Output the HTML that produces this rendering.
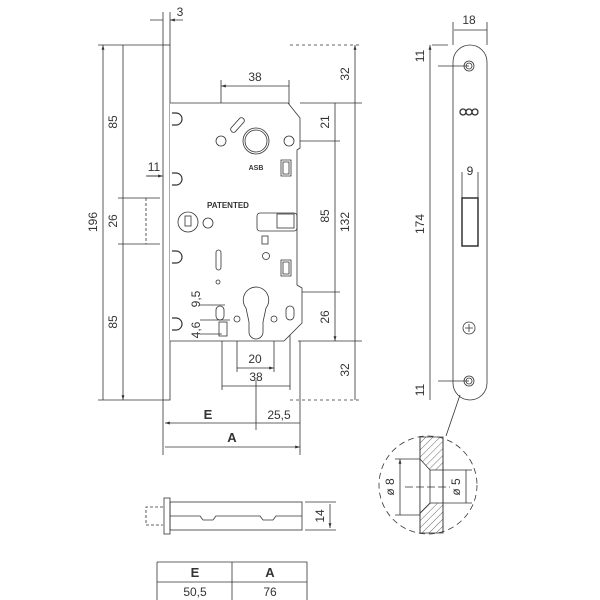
<!DOCTYPE html>
<html><head><style>body{margin:0;background:#fff}svg{display:block}text{font-family:"Liberation Sans",sans-serif;fill:#333}</style></head><body>
<svg width="600" height="600" viewBox="0 0 600 600" xmlns="http://www.w3.org/2000/svg">
<defs>
<marker id="a" viewBox="0 0 10 10" refX="10" refY="5" markerWidth="6" markerHeight="6" orient="auto-start-reverse"><path d="M0,2 L10,5 L0,8z" fill="#333"/></marker>
<pattern id="h" width="5" height="5" patternUnits="userSpaceOnUse" patternTransform="rotate(45)"><line x1="0" y1="0" x2="0" y2="5" stroke="#444" stroke-width="0.8"/></pattern>
</defs>
<g stroke="#333" fill="none" stroke-width="0.8">
<path d="M98,45H163M118,198H160M118,244H160M98,400H163M163,12V45M170,12V45M146,198H160M146,244H160"/>
<path d="M290,45H360M290,400H360" stroke-dasharray="3,3"/>
<path d="M300,103H362M256,141H340M205,292H340M298,341H362M221,80V138M289,80V138M163,400V455M300,341V455M256,380V430"/>
<g marker-start="url(#a)" marker-end="url(#a)">
<path d="M103,45V400M123,45V198M123,198V244M123,244V400"/>
<path d="M355,45V103M355,103V341M355,341V400M335,103V141M335,141V292M335,292V341"/>
<path d="M221,86H289M222,386H290M237,368H274"/>
<path d="M165,423H256M256,423H300M165,447H300"/>
<path d="M430,45V66M430,66V381M430,381V400M454,30H487M462,180H478"/>
<path d="M400,459V515M466,470V503M330,504V528"/>
<path d="M205,292V305M205,320V334"/>
</g>
<path d="M147,176H163" marker-end="url(#a)"/><path d="M146,176H160"/>
<path d="M150,20H163M183,20H170" marker-end="url(#a)"/>
<path d="M146,198V244" stroke-dasharray="3,2"/>
<path d="M222,320V390M290,320V390M237,322V372M274,322V372M205,305V320"/>
<rect x="163" y="45" width="7" height="355" fill="#fff"/>
<path d="M170,103H288L300,118V148L297,150V285L302,288V323L284,341H170" fill="#fff"/>
<path d="M172,113h4a6,6 0 0 1 0,12h-4M172,173h4a6,6 0 0 1 0,12h-4M172,251h4a6,6 0 0 1 0,12h-4M172,318h4a6,6 0 0 1 0,12h-4" stroke-width="1.2"/>
<circle cx="221" cy="141" r="5"/><circle cx="289" cy="141" r="5"/>
<circle cx="256" cy="141" r="13"/><circle cx="256" cy="141" r="11"/>
<path d="M231,128l9,-10a3,3 0 0 1 4,4l-9,10a3,3 0 0 1 -4,-4z"/>
<path d="M281,160h10v16h-10z M283,162h6v12h-6z"/>
<path d="M281,260h10v16h-10z M283,262h6v12h-6z"/>
<circle cx="188" cy="222" r="10"/><rect x="185" y="216" width="6" height="10"/><circle cx="208" cy="223" r="5"/>
<rect x="257" y="213" width="40" height="18" rx="3"/><rect x="277" y="214" width="17" height="14"/>
<rect x="262" y="236" width="6" height="8"/><circle cx="266" cy="256" r="3.5"/>
<rect x="216" y="250" width="5" height="20" rx="2.5"/><circle cx="218" cy="282" r="2"/>
<path d="M256,287a13,13 0 0 1 10,21l-3,14v10a7,7 0 0 1 -14,0v-10l-3,-14a13,13 0 0 1 10,-21z"/>
<rect x="216" y="306" width="8" height="14" rx="4"/><rect x="286" y="306" width="8" height="14" rx="4"/>
<circle cx="237" cy="319" r="3"/><circle cx="274" cy="319" r="3"/>
<rect x="219" y="322" width="8" height="14"/>
<path d="M200,305H225M200,320H230M200,334H222"/>
<rect x="453" y="45" width="34" height="355" rx="17" fill="#fff"/>
<circle cx="469" cy="66" r="5"/><circle cx="469" cy="66" r="3"/>
<circle cx="469" cy="381" r="5"/><circle cx="469" cy="381" r="3"/>
<rect x="462" y="198" width="16" height="48" stroke-width="1.5"/>
<circle cx="469" cy="328" r="6"/><path d="M465,328h8M469,324v8"/>
<path d="M438,66H469M438,381H469M432,45H448M462,172V198M478,172V198M453,22V45M487,22V45"/>
<circle cx="463" cy="112" r="3" stroke-width="1.3"/><circle cx="469" cy="112" r="3" stroke-width="1.3"/><circle cx="475" cy="112" r="3" stroke-width="1.3"/>
<path d="M460,395L446,436"/>
<circle cx="428" cy="485" r="49" stroke-dasharray="6,4"/>
<path d="M420,437V533H443V437H420z" fill="url(#h)"/>
<path d="M420,459L430,470V503L420,513M430,470H443V503H430" fill="#fff"/>
<path d="M420,437V533M443,437V533"/>
<path d="M395,459H420M395,515H420M443,470H472M443,503H472"/>
<path d="M405,487H450" stroke-dasharray="8,3"/>
<rect x="164" y="498" width="6" height="36"/>
<rect x="170" y="502" width="132" height="28"/>
<path d="M170,516H200l3,4h10l3,-4H260l3,4h10l3,-4H302"/>
<path d="M163,507H146V525H163" stroke-dasharray="3,2"/>
<path d="M305,502H336M305,530H336"/>
<path d="M157,562H307V600M157,562V600M157,582H307M232,562V600"/>
</g>
<g font-size="12" text-anchor="middle">
<text x="180" y="16">3</text>
<text x="255" y="81">38</text>
<text x="255" y="363">20</text>
<text x="256" y="381">38</text>
<text x="154" y="171">11</text>
<text x="279" y="419">25,5</text>
<text x="469" y="24">18</text>
<text x="470" y="175">9</text>
<text x="208" y="419" font-weight="bold" font-size="13">E</text>
<text x="232" y="442" font-weight="bold" font-size="13">A</text>
<text x="195" y="577" font-weight="bold" font-size="13">E</text>
<text x="270" y="577" font-weight="bold" font-size="13">A</text>
<text x="195" y="596">50,5</text>
<text x="270" y="596">76</text>
<text x="228" y="208" font-size="8" font-weight="bold">PATENTED</text>
<text x="256" y="170" font-size="7" font-weight="bold">ASB</text>
</g>
<g font-size="12" text-anchor="middle">
<text transform="translate(97,222) rotate(-90)">196</text>
<text transform="translate(117,122) rotate(-90)">85</text>
<text transform="translate(117,221) rotate(-90)">26</text>
<text transform="translate(117,322) rotate(-90)">85</text>
<text transform="translate(349,74) rotate(-90)">32</text>
<text transform="translate(329,122) rotate(-90)">21</text>
<text transform="translate(329,216) rotate(-90)">85</text>
<text transform="translate(349,222) rotate(-90)">132</text>
<text transform="translate(329,317) rotate(-90)">26</text>
<text transform="translate(349,370) rotate(-90)">32</text>
<text transform="translate(200,299) rotate(-90)">9,5</text>
<text transform="translate(200,330) rotate(-90)">4,6</text>
<text transform="translate(424,56) rotate(-90)">11</text>
<text transform="translate(424,224) rotate(-90)">174</text>
<text transform="translate(424,390) rotate(-90)">11</text>
<text transform="translate(394,487) rotate(-90)">ø 8</text>
<text transform="translate(460,487) rotate(-90)">ø 5</text>
<text transform="translate(324,516) rotate(-90)">14</text>
</g>
</svg>
</body></html>
